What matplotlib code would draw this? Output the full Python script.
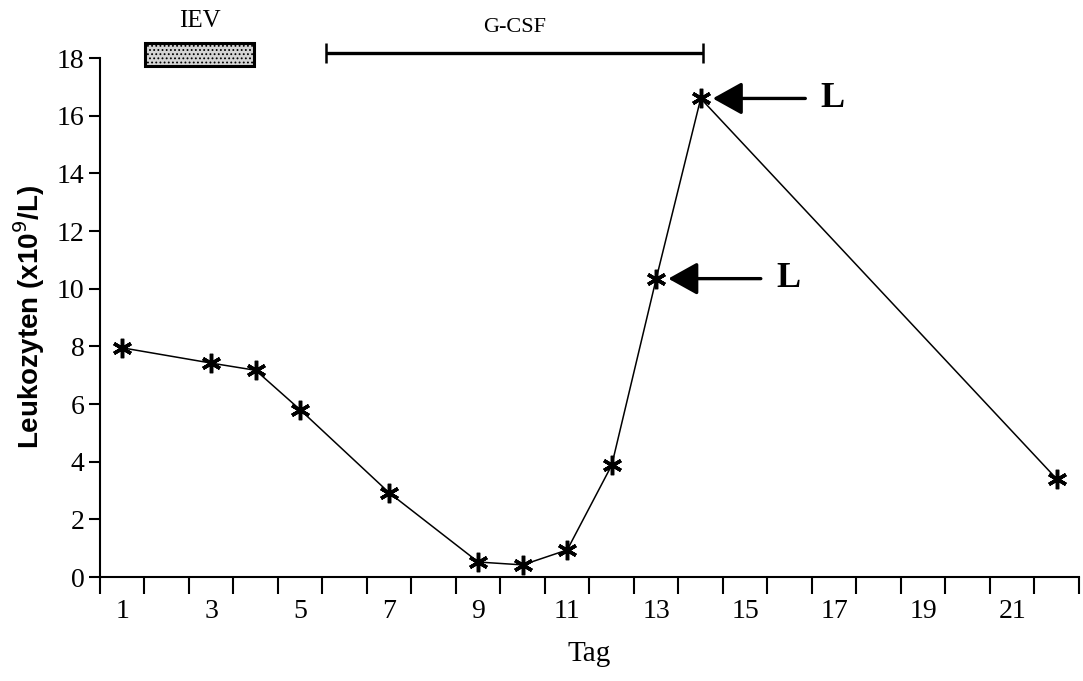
import matplotlib
matplotlib.use("Agg")
import matplotlib.pyplot as plt
from matplotlib.patches import Rectangle

# Leukocyte counts per day
days = [1, 3, 4, 5, 7, 9, 10, 11, 12, 13, 14, 22]
leukocytes = [7.95, 7.42, 7.17, 5.8, 2.92, 0.52, 0.42, 0.94, 3.88, 10.35, 16.6, 3.4]

x_tick_labels = ["1", "3", "5", "7", "9", "11", "13", "15", "17", "19", "21"]
x_label_positions = [1, 3, 5, 7, 9, 11, 13, 15, 17, 19, 21]
y_ticks = [0, 2, 4, 6, 8, 10, 12, 14, 16, 18]

# Treatment periods (day ranges)
iev_period = (1.52, 3.96)
gcsf_period = (5.58, 14.05)

# Days marked with an "L" arrow
marked_days = [13, 14]

SERIF = ["Liberation Serif", "DejaVu Serif"]
plt.rcParams["hatch.color"] = "#8a8a8a"
plt.rcParams["hatch.linewidth"] = 0.8

fig = plt.figure(figsize=(10.83, 6.81), dpi=100)
ax = fig.add_axes([0.0923, 0.1527, 0.904, 0.762])

ax.plot(days, leukocytes, color="black", lw=1.1, marker=(6, 2, 0),
        markersize=14, markeredgewidth=2.5, clip_on=False, zorder=3)

ax.set_xlim(0.5, 22.5)
ax.set_ylim(0, 18)

# Category-style axis: tick marks at bin edges, labels at bin centres
edges = [d + 0.5 for d in range(0, 23)]
ax.set_xticks(edges)
ax.set_xticklabels([])
ax.tick_params(axis="x", which="major", length=12, width=1.5, direction="out")
ax.set_xticks(x_label_positions, minor=True)
ax.set_xticklabels(x_tick_labels, minor=True, fontsize=20, family=SERIF)
ax.tick_params(axis="x", which="minor", length=0, pad=16)

ax.set_yticks(y_ticks)
ax.set_yticklabels([str(v) for v in y_ticks], fontsize=20, family=SERIF)
ax.tick_params(axis="y", length=8, width=1.5, direction="out", pad=3)

for side in ("top", "right"):
    ax.spines[side].set_visible(False)
for side in ("left", "bottom"):
    ax.spines[side].set_linewidth(1.5)

ax.set_xlabel("Tag", fontsize=21, family=SERIF, labelpad=12)
ax.set_ylabel("Leukozyten (x10$^{9}$/L)", fontsize=20, fontweight="bold",
              family=["Liberation Sans", "DejaVu Sans"], labelpad=7)

# IEV treatment bar
ax.add_patch(Rectangle((iev_period[0], 17.72), iev_period[1] - iev_period[0], 0.8,
                       facecolor="#d4d4d4", edgecolor="black", lw=2.2,
                       hatch="....", clip_on=False, zorder=4))
ax.text(sum(iev_period) / 2, 19.3, "IEV", ha="center", va="center",
        fontsize=18, family=SERIF, clip_on=False)

# G-CSF treatment bar
ax.plot(gcsf_period, [18.18, 18.18], color="black", lw=2.4, clip_on=False,
        solid_capstyle="butt")
ax.plot(gcsf_period, [18.18, 18.18], linestyle="none", marker="|",
        markersize=14, markeredgewidth=1.8, color="black", clip_on=False)
ax.text(sum(gcsf_period) / 2, 19.05, "G-CSF", ha="center", va="center",
        fontsize=16, family=SERIF, clip_on=False)

# "L" arrows
for d in marked_days:
    y = leukocytes[days.index(d)]
    tip_x = d + 0.27
    tail_x = d + 2.35
    ax.annotate("", xy=(tip_x, y), xytext=(tail_x, y),
                arrowprops=dict(arrowstyle="-|>,head_length=0.9,head_width=0.5",
                                mutation_scale=20, lw=2.4, color="black",
                                shrinkA=0, shrinkB=0),
                annotation_clip=False)
    ax.text(tail_x + 0.62, y, "L", ha="center", va="center", fontsize=26,
            fontweight="bold", family=SERIF)

fig.savefig("out.png", dpi=100)
